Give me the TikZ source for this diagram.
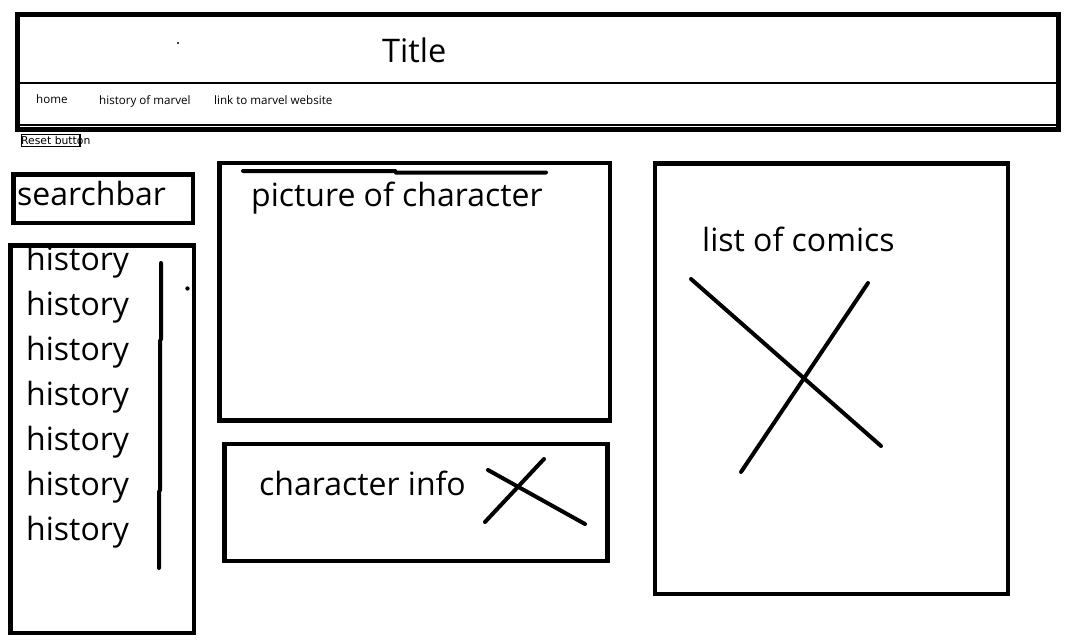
\documentclass[tikz,border=0pt]{standalone}
\usepackage{fontspec}
\setmainfont{Open Sans}
\newfontfamily\smallfont{DejaVu Sans}
\begin{document}
\begin{tikzpicture}[x=1pt,y=-1pt,
  hline/.style={draw=black, line width=1.3pt},
  boxline/.style={draw=black, line width=4.6pt},
  mark line/.style={draw=black, line width=4pt, line cap=round},
  bigtext/.style={anchor=base west, inner sep=0pt, font=\fontsize{32}{32}\selectfont},
  navtext/.style={anchor=base west, inner sep=0pt, font=\fontsize{11.6}{11.6}\selectfont},
]
\useasboundingbox (0,0) rectangle (1072,642);
% header
\draw[line width=5pt] (17.5,14.3) rectangle (1058.5,129.3);
\coordinate (n1l) at (20,83);   \coordinate (n1r) at (1056,83);
\coordinate (n2l) at (20,125);  \coordinate (n2r) at (1056,125);
\draw[hline] (n1l) -- (n1r);
\draw[hline] (n2l) -- (n2r);
\fill (178,43) circle (1.1);
\node[anchor=base west, inner sep=0pt, font=\fontsize{32.5}{32.5}\selectfont] (title) at (382,63) {Title};
\node[navtext] (home) at (36,103) {home};
\node[navtext] (hist) at (99,104) {history of marvel};
\node[navtext] (link) at (214,105) {link to marvel website};
% reset button
\node[anchor=base west, inner sep=0pt, font=\smallfont\fontsize{10.8}{10.8}\selectfont] (reset) at (21,144) {Reset button};
\draw[line width=1.2pt] (21.5,134.5) rectangle (80,146.5);
% searchbar
\draw[boxline] (13.5,174.5) rectangle (193,223);
\node[bigtext] (search) at (17,205) {searchbar};
% history list
\draw[boxline] (10.7,245.7) rectangle (194,633);
\foreach \i in {0,...,6} {
  \node[bigtext] (h\i) at (26,{270+45*\i}) {history};
}
\coordinate (s1) at (161,263);
\coordinate (s2) at (161,339);
\coordinate (s3) at (160,341);
\coordinate (s4) at (160,490);
\coordinate (s5) at (159,492);
\coordinate (s6) at (159,568);
\draw[mark line] (s1) -- (s2) -- (s3) -- (s4) -- (s5) -- (s6);
\fill (187.5,288.5) circle (2.2);
% picture of character
\draw[boxline] (219.7,163) rectangle (610,420.5);
\coordinate (p1) at (243,171);
\coordinate (p2) at (395,171);
\coordinate (p3) at (396,172.5);
\coordinate (p4) at (546,172.5);
\draw[mark line] (p1) -- (p2) -- (p3) -- (p4);
\node[bigtext] (pic) at (251,206) {picture of character};
% character info
\draw[boxline] (224.5,444) rectangle (607.5,561);
\node[bigtext] (info) at (259,495) {character info};
\coordinate (c1) at (488,470); \coordinate (c2) at (585,524);
\coordinate (c3) at (485,522); \coordinate (c4) at (544,459);
\draw[mark line] (c1) -- (c2);
\draw[mark line] (c3) -- (c4);
% list of comics
\draw[boxline] (655,163.3) rectangle (1008,594);
\node[bigtext] (comics) at (702,251) {list of comics};
\coordinate (x1) at (691,279); \coordinate (x2) at (881,446);
\coordinate (x3) at (868,283); \coordinate (x4) at (741,472);
\draw[mark line] (x1) -- (x2);
\draw[mark line] (x3) -- (x4);
\end{tikzpicture}
\end{document}
